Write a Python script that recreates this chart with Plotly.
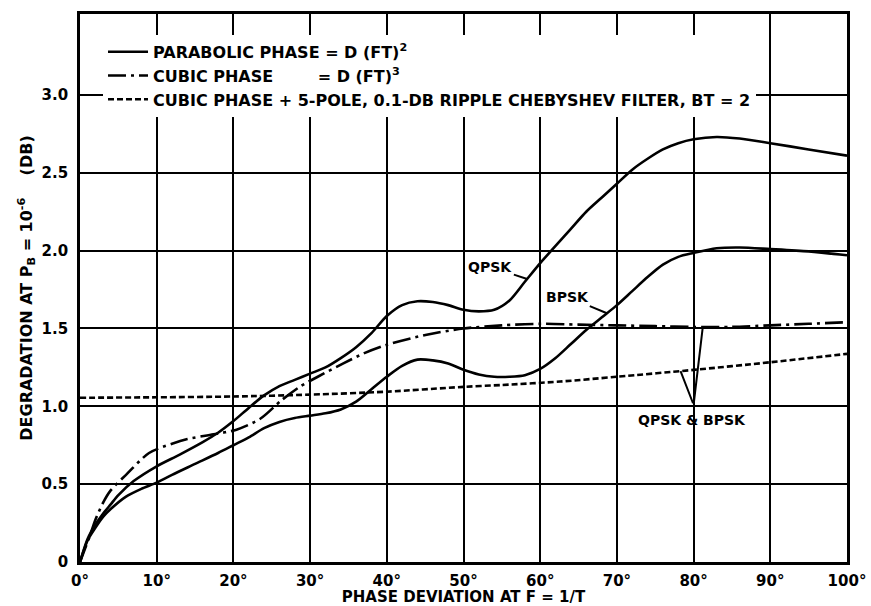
import numpy as np
import plotly.graph_objects as go

# Phase deviation (degrees) and degradation (dB) at P_B = 1e-6
qpsk_x = [0, 1, 2, 3, 4, 5, 7, 10, 13, 16, 18, 20, 22, 24, 26, 28, 30, 32, 34, 36, 38, 40, 42,
          44, 46, 48, 50, 52, 54, 56, 58, 60, 62, 64, 66, 68, 70, 72, 74, 76, 78, 80, 83, 86, 90,
          95, 100]
qpsk_y = [0, 0.15, 0.24, 0.31, 0.37, 0.43, 0.52, 0.615, 0.69, 0.77, 0.83, 0.905, 0.99, 1.07,
          1.13, 1.17, 1.21, 1.25, 1.31, 1.38, 1.47, 1.58, 1.65, 1.675, 1.67, 1.65, 1.62, 1.61,
          1.62, 1.68, 1.80, 1.92, 2.03, 2.14, 2.25, 2.34, 2.43, 2.52, 2.59, 2.65, 2.69, 2.715,
          2.73, 2.72, 2.69, 2.65, 2.61]

bpsk_x = [0, 1, 2, 3, 4, 6, 8, 10, 12, 15, 18, 20, 22, 24, 26, 28, 30, 32, 34, 36, 38, 40, 42,
          44, 46, 48, 50, 52, 54, 56, 58, 60, 62, 64, 66, 68, 70, 72, 74, 76, 78, 80, 83, 86, 90,
          95, 100]
bpsk_y = [0, 0.14, 0.22, 0.29, 0.34, 0.42, 0.47, 0.51, 0.56, 0.63, 0.70, 0.75, 0.80, 0.86, 0.90,
          0.925, 0.94, 0.955, 0.98, 1.03, 1.11, 1.19, 1.26, 1.30, 1.295, 1.275, 1.235, 1.205,
          1.19, 1.19, 1.20, 1.24, 1.31, 1.40, 1.49, 1.57, 1.65, 1.74, 1.83, 1.91, 1.96, 1.985,
          2.015, 2.02, 2.01, 1.995, 1.97]

cubic_x = [0, 1.3, 2, 3, 4, 6, 9, 12, 14, 17.4, 20.4, 23.5, 26.3, 28.7, 31, 34.4, 37, 40, 45.2,
           50, 55, 60, 65, 70, 75, 80, 85, 90, 95, 100]
cubic_y = [0, 0.17, 0.27, 0.38, 0.46, 0.56, 0.70, 0.76, 0.79, 0.82, 0.85, 0.92, 1.04, 1.127,
           1.19, 1.277, 1.34, 1.395, 1.46, 1.50, 1.52, 1.53, 1.525, 1.52, 1.515, 1.51, 1.51,
           1.52, 1.53, 1.54]

filter_x = [0, 10, 20, 30, 40, 50, 55, 62.6, 70, 80, 90, 100]
filter_y = [1.055, 1.058, 1.063, 1.075, 1.094, 1.125, 1.137, 1.159, 1.19, 1.234, 1.283, 1.337]

x_ticks = [0, 10, 20, 30, 40, 50, 60, 70, 80, 90, 100]
x_tick_labels = [f"{v}°" for v in x_ticks]
y_ticks = [0, 0.5, 1.0, 1.5, 2.0, 2.5, 3.0]
y_tick_labels = ["0", "0.5", "1.0", "1.5", "2.0", "2.5", "3.0"]

NB = "\u00a0"
FONT = "DejaVu Sans"
TXT = dict(family=FONT, size=16, color="black", weight="bold")

line_style = dict(color="black", width=2.6, shape="spline", smoothing=0.8)

fig = go.Figure()
fig.add_trace(go.Scatter(
    x=qpsk_x, y=qpsk_y, mode="lines", name="PARABOLIC PHASE = D (FT)<sup>2</sup>",
    line=line_style))
fig.add_trace(go.Scatter(
    x=bpsk_x, y=bpsk_y, mode="lines", showlegend=False, line=line_style))
fig.add_trace(go.Scatter(
    x=cubic_x, y=cubic_y, mode="lines",
    name="CUBIC PHASE" + NB * 8 + "= D (FT)<sup>3</sup>",
    line=dict(line_style, dash="18px,5px,3px,5px")))
fig.add_trace(go.Scatter(
    x=filter_x, y=filter_y, mode="lines",
    name="CUBIC PHASE + 5-POLE, 0.1-DB RIPPLE CHEBYSHEV FILTER, BT = 2",
    line=dict(line_style, dash="6px,3px")))

arrow = dict(showarrow=True, arrowhead=0, arrowwidth=2, arrowcolor="black",
             standoff=0, startstandoff=0, xref="x", yref="y", axref="x", ayref="y",
             font=dict(family=FONT, size=14, color="black", weight="bold"))

fig.add_annotation(text="QPSK", x=58.3, y=float(np.interp(58.3, qpsk_x, qpsk_y)),
                   ax=53.5, ay=1.896, **arrow)
fig.add_annotation(text="BPSK", x=68.7, y=float(np.interp(68.7, bpsk_x, bpsk_y)),
                   ax=63.5, ay=1.705, **arrow)
# shared label pointing at both cubic-phase curves
fig.add_annotation(text="", x=78.3, y=float(np.interp(78.3, filter_x, filter_y)),
                   ax=80.0, ay=1.01, **arrow)
fig.add_annotation(text="", x=81.2, y=float(np.interp(81.2, cubic_x, cubic_y)),
                   ax=80.0, ay=1.01, **arrow)
fig.add_annotation(text="QPSK & BPSK", x=79.8, y=0.913, xref="x", yref="y", showarrow=False,
                   font=dict(family=FONT, size=14, color="black", weight="bold"))

axis_common = dict(showgrid=True, gridcolor="black", gridwidth=1.8, showline=True,
                   linecolor="black", linewidth=2.6, mirror=True, ticks="", zeroline=False,
                   tickfont=dict(family=FONT, size=15, color="black", weight="bold"))

fig.update_xaxes(range=[0, 100], tickvals=x_ticks, ticktext=x_tick_labels,
                 ticklabelstandoff=3,
                 title=dict(text="PHASE DEVIATION AT F = 1/T", standoff=0,
                            font=dict(TXT, size=15)),
                 **axis_common)
fig.update_yaxes(range=[0, 3.52], tickvals=y_ticks, ticktext=y_tick_labels,
                 ticklabelstandoff=6,
                 title=dict(text="DEGRADATION AT P<sub>B</sub> = 10<sup>-6</sup>" + NB * 4
                                 + "(DB)" + NB * 6,
                            standoff=6, font=TXT),
                 **axis_common)

fig.update_layout(
    width=871, height=606,
    margin=dict(l=80, r=24, t=14, b=44, autoexpand=False),
    paper_bgcolor="white", plot_bgcolor="white",
    font=TXT,
    legend=dict(x=0.03, y=0.962, xanchor="left", yanchor="top", bgcolor="white",
                borderwidth=0, itemwidth=40, tracegroupgap=0, font=TXT),
)

fig.write_html("out.html")
